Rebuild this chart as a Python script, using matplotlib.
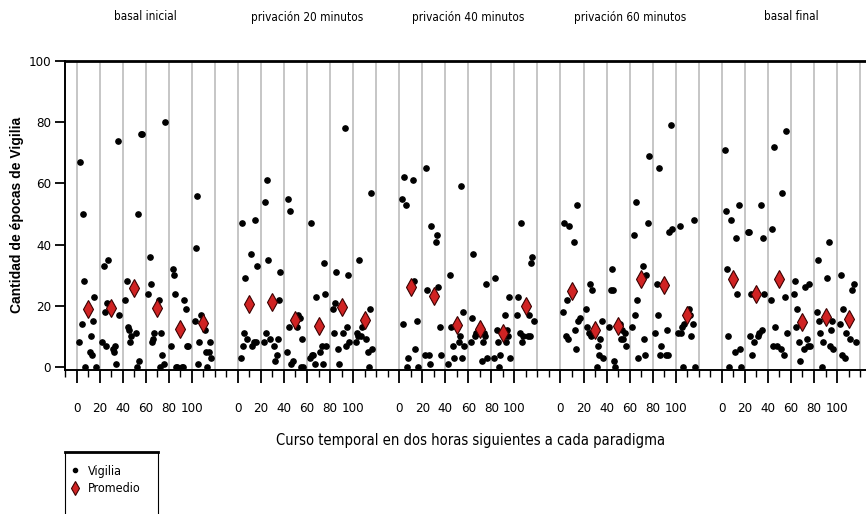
import numpy as np
import matplotlib.pyplot as plt
from matplotlib.lines import Line2D
from matplotlib.patches import Rectangle

plt.rcParams['font.family'] = ['DejaVu Sans']
plt.rcParams['font.stretch'] = 'condensed'

paradigmas = ['basal inicial', 'privación 20 minutos', 'privación 40 minutos',
              'privación 60 minutos', 'basal final']
centros = [10, 30, 50, 70, 90, 110]
etiquetas_x = [0, 20, 40, 60, 80, 100]

# épocas de vigilia por rata en cada bloque de 20 min: (primeros 10 min, segundos 10 min)
basal_inicial = [
    ([8, 67, 14, 50, 28, 0], [5, 10, 4, 15, 23, 0]),
    ([8, 33, 18, 7, 21, 35], [6, 5, 7, 1, 74, 17]),
    ([22, 28, 13, 12, 8, 10], [11, 0, 50, 2, 76, 76]),
    ([24, 36, 27, 8, 9, 11], [22, 0, 11, 4, 1, 80]),
    ([7, 32, 30, 24, 0, 0], [0, 0, 22, 19, 7, 7]),
    ([15, 39, 56, 1, 8, 17], [12, 5, 0, 5, 8, 3]),
]
privacion_20 = [
    ([3, 47, 7, 11, 29, 9], [37, 7, 8, 48, 8, 33]),
    ([8, 54, 11, 61, 35, 9], [7, 2, 4, 9, 22, 31]),
    ([5, 55, 13, 51, 1, 2], [13, 17, 16, 0, 9, 0]),
    ([3, 47, 4, 4, 1, 23], [5, 7, 1, 34, 24, 7]),
    ([19, 11, 21, 31, 6, 1], [11, 78, 7, 13, 30, 8]),
    ([8, 11, 10, 35, 10, 13], [9, 5, 0, 19, 57, 6]),
]
privacion_40 = [
    ([55, 14, 62, 53, 0, 3], [61, 28, 6, 15, 0]),
    ([4, 65, 25, 4, 1, 46], [41, 43, 26, 13, 4]),
    ([1, 30, 13, 7, 3], [8, 10, 59, 3, 18, 7]),
    ([8, 16, 37, 10, 11, 11], [2, 8, 11, 10, 27, 3]),
    ([3, 29, 12, 8, 0, 4], [17, 8, 12, 10, 23, 3]),
    ([17, 23, 11, 47, 8, 10], [10, 17, 10, 34, 36, 15]),
]
privacion_60 = [
    ([18, 47, 10, 22, 9, 46], [41, 12, 6, 53, 15, 16]),
    ([19, 13, 11, 27, 10, 25], [0, 7, 4, 9, 15, 3]),
    ([13, 25, 32, 25, 2, 0], [14, 9, 12, 9, 11, 7]),
    ([13, 43, 17, 54, 22, 3], [33, 9, 4, 30, 47, 69]),
    ([11, 27, 17, 65, 4, 7], [4, 12, 4, 44, 79, 45]),
    ([11, 46, 11, 13, 0, 14], [19, 17, 10, 14, 48, 0]),
]
basal_final = [
    ([71, 51, 32, 10, 0, 48], [5, 42, 24, 53, 6, 0]),
    ([44, 44, 10, 24, 4, 8], [10, 11, 53, 12, 42, 24]),
    ([22, 45, 7, 72, 13, 7], [6, 57, 4, 23, 77, 11]),
    ([24, 28, 13, 19, 8, 2], [6, 26, 9, 7, 27, 7]),
    ([18, 35, 15, 11, 0, 8], [29, 41, 7, 12, 15, 6]),
    ([14, 30, 4, 19, 3, 11], [9, 25, 27, 8]),
]

# promedio de cada bloque
prom_basal_inicial = [18.8, 19.4, 25.7, 19.4, 12.3, 14.3]
prom_privacion_20 = [20.5, 21.2, 15.2, 13.4, 19.7, 15.4]
prom_privacion_40 = [26.1, 23.2, 13.7, 12.5, 11.0, 19.9]
prom_privacion_60 = [24.7, 12.1, 13.4, 28.8, 26.7, 16.9]
prom_basal_final = [28.6, 23.9, 28.8, 14.6, 16.4, 15.6]

datos = [basal_inicial, privacion_20, privacion_40, privacion_60, basal_final]
promedios = [prom_basal_inicial, prom_privacion_20, prom_privacion_40,
             prom_privacion_60, prom_basal_final]

desplaz = 140  # cada paradigma ocupa 140 min en el eje

fig = plt.figure(figsize=(8.66, 5.14), dpi=100)
ax = fig.add_axes([65 / 866, 144 / 514, 802 / 866, 309 / 514])

rojo = '#d02323'
for p, (bloques, prom) in enumerate(zip(datos, promedios)):
    base = p * desplaz
    for b, (a, c) in enumerate(bloques):
        inicio = base + b * 20
        xa = inicio + np.linspace(2.4, 7.6, len(a))
        xc = inicio + np.linspace(11.6, 16.6, len(c))
        ax.plot(xa, a, 'o', color='black', ms=3.8, zorder=3)
        ax.plot(xc, c, 'o', color='black', ms=3.8, zorder=3)
    ax.plot(base + np.array(centros), prom, 'd', color=rojo, mec='#3a0000',
            mew=0.8, ms=9, zorder=4)
    ax.annotate(paradigmas[p], xy=(base + 60, 1 - 17 / 514),
                xycoords=('data', 'figure fraction'), ha='center', va='center',
                fontsize=8.5)

ax.vlines(np.arange(0, 681, 20), -1, 100, color='#c6c6c6', lw=1.4, zorder=0)

ax.set_xlim(-10, 686)
ax.set_ylim(-1, 100)

mayores = [p * desplaz + e for p in range(5) for e in etiquetas_x]
ax.set_xticks(mayores)
ax.set_xticklabels([str(e) for p in range(5) for e in etiquetas_x], fontsize=9.5)
ax.set_xticks(np.arange(-10, 681, 10), minor=True)
ax.tick_params(axis='x', which='major', length=9, width=1.3, pad=14)
ax.tick_params(axis='x', which='minor', length=5, width=1.0)
ax.set_yticks([0, 20, 40, 60, 80, 100])
ax.tick_params(axis='y', length=7, width=1.3, labelsize=9.5, pad=3)

for lado in ['left', 'bottom']:
    ax.spines[lado].set_linewidth(1.4)
ax.spines['top'].set_linewidth(2.0)
ax.spines['right'].set_visible(False)

fig.text(17 / 866, 1 - 215 / 514, 'Cantidad de épocas de Vigilia', rotation=90,
         ha='center', va='center', fontsize=10, fontweight='bold',
         family=['Liberation Sans', 'DejaVu Sans'], fontstretch='normal')
fig.text(471 / 866, 1 - 441 / 514, 'Curso temporal en dos horas siguientes a cada paradigma',
         ha='center', va='center', fontsize=10.5)

# leyenda
fig.patches.append(Rectangle((65 / 866, -0.05), 93 / 866, 0.05 + 62 / 514,
                             transform=fig.transFigure, fill=False,
                             ec='black', lw=0.8))
fig.lines.append(Line2D([65 / 866, 158 / 866], [1 - 452 / 514] * 2,
                        transform=fig.transFigure, color='black', lw=2))
manejadores = [
    Line2D([], [], ls='none', marker='o', color='black', ms=3),
    Line2D([], [], ls='none', marker='d', color=rojo, mec='#3a0000', mew=0.8, ms=7.5),
]
fig.legend(manejadores, ['Vigilia', 'Promedio'], loc='upper left',
           bbox_to_anchor=(60 / 866, 1 - 456 / 514), frameon=False, fontsize=9,
           handlelength=1.0, handletextpad=0.5, labelspacing=0.35, borderpad=0.2)

fig.savefig('out.png', dpi=100)
